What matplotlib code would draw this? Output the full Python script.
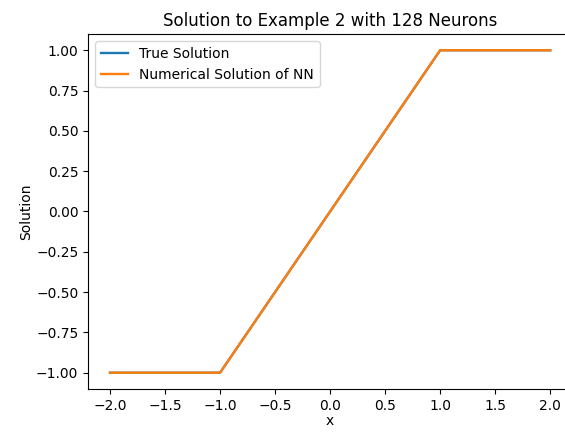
import matplotlib
matplotlib.use("Agg")
import matplotlib.pyplot as plt
import numpy as np

# breakpoints of the solution curve
x_vals = [-2.0, -1.0, 1.0, 2.0]
true_solution = [-1.0, -1.0, 1.0, 1.0]
nn_solution = [-1.0, -1.0, 1.0, 1.0]

fig = plt.figure(figsize=(5.65, 4.32), dpi=100)
ax = fig.add_axes([0.1558, 0.1, 0.857, 0.821])

ax.plot(x_vals, true_solution, label="True Solution", lw=1.7)
ax.plot(x_vals, nn_solution, label="Numerical Solution of NN", lw=1.7)

ax.set_xlim(-2.2, 2.2)
ax.set_ylim(-1.1, 1.1)
ax.set_xticks(np.arange(-2.0, 2.01, 0.5))
ax.set_yticks(np.arange(-1.0, 1.01, 0.25))
ax.set_title("Solution to Example 2 with 128 Neurons")
ax.set_xlabel("x")
ax.xaxis.set_label_coords(0.5, -0.07)
ax.set_ylabel("Solution", labelpad=2)
ax.legend(loc="upper left")

fig.savefig("out.png", dpi=100)
